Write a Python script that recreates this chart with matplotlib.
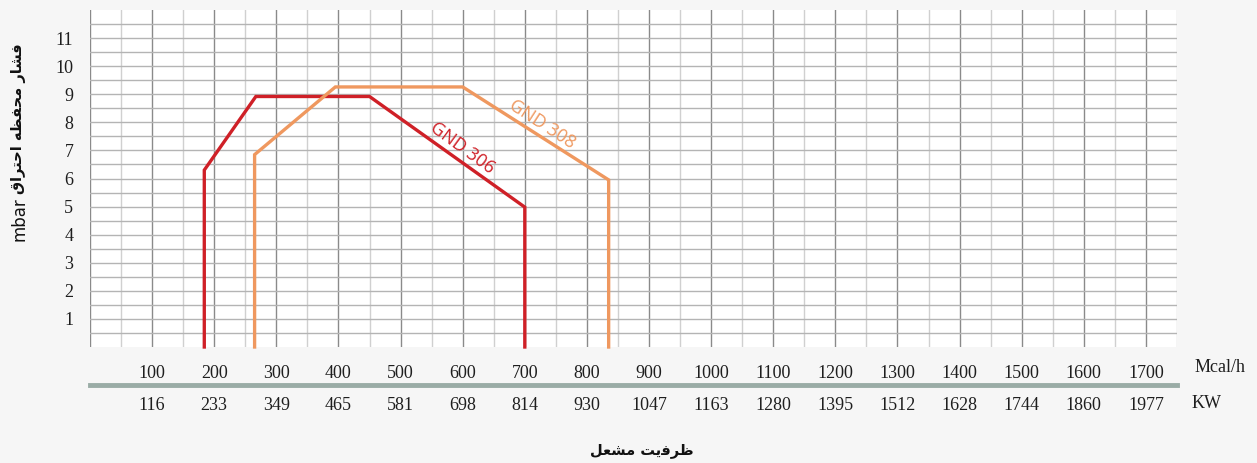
import matplotlib
matplotlib.use("Agg")
import matplotlib.pyplot as plt
import numpy as np
from matplotlib.ticker import FixedLocator

# ---- data ----
mcal_ticks = [100, 200, 300, 400, 500, 600, 700, 800, 900, 1000, 1100, 1200, 1300, 1400, 1500, 1600, 1700]
kw_labels = ["116", "233", "349", "465", "581", "698", "814", "930", "1047", "1163",
             "1280", "1395", "1512", "1628", "1744", "1860", "1977"]
y_ticks = [1, 2, 3, 4, 5, 6, 7, 8, 9, 10, 11]

gnd306_x = [184, 184, 267, 450, 700, 700]
gnd306_y = [0, 6.3, 8.92, 8.92, 4.98, 0]
gnd308_x = [265, 265, 395, 600, 835, 835]
gnd308_y = [0, 6.85, 9.26, 9.26, 5.95, 0]

# Persian texts (presentation forms, visual order)
ylabel_unit = "mbar"
ylabel_fa = "\uFED5\uFE8D\uFEAE\uFE98\uFEA3\uFE8D" + " " + "\uFEEA\uFEC8\uFED4\uFEA4\uFEE3" + " " + "\uFEAD\uFE8E\uFEB8\uFED3"
xlabel_fa = "\uFEDE\uFECC\uFEB8\uFEE3" + " " + "\uFE96\uFBFE\uFED3\uFEAE\uFEC7"

RED = "#cf2027"
ORANGE = "#ef985f"
BG = "#f6f6f6"
TXT = "#1e1e1e"

fig = plt.figure(figsize=(12.57, 4.63), dpi=100, facecolor=BG)
W, H = 1257, 463
ax = fig.add_axes([90 / W, (H - 347) / H, (1177 - 90) / W, (347 - 10) / H])
ax.set_facecolor("white")
ax.set_xlim(0, 1750)
ax.set_ylim(0, 12)

for s in ax.spines.values():
    s.set_visible(False)

# grid
ax.xaxis.set_major_locator(FixedLocator([0] + mcal_ticks))
ax.xaxis.set_minor_locator(FixedLocator(list(np.arange(50, 1800, 100))))
ax.yaxis.set_major_locator(FixedLocator(y_ticks))
ax.yaxis.set_minor_locator(FixedLocator(list(np.arange(0.5, 12, 1.0))))
ax.grid(which="major", axis="x", color="#8a8a8a", lw=1.0)
ax.grid(which="minor", axis="x", color="#d0d0d0", lw=1.0)
ax.grid(which="both", axis="y", color="#b4b4b4", lw=1.0)
ax.set_axisbelow(True)

ax.tick_params(which="both", length=0)
ax.set_xticklabels([""] + [str(v) for v in mcal_ticks], fontfamily="Liberation Serif", fontsize=13, color=TXT)
ax.tick_params(axis="x", pad=13)
ax.set_yticklabels([str(v) for v in y_ticks], fontfamily="Liberation Serif", fontsize=13, color=TXT)
ax.tick_params(axis="y", pad=12)

# curves
ax.plot(gnd306_x, gnd306_y, color=RED, lw=2.4, solid_joinstyle="miter", clip_on=False, zorder=3)
ax.plot(gnd308_x, gnd308_y, color=ORANGE, lw=2.4, solid_joinstyle="miter", clip_on=False, zorder=3)

ax.text(600, 7.08, "GND 306", color=RED, fontsize=13, rotation=-36, ha="center", va="center",
        fontfamily="Open Sans", zorder=4)
ax.text(728, 7.95, "GND 308", color=ORANGE, fontsize=13, rotation=-33, ha="center", va="center",
        fontfamily="Open Sans", zorder=4)

# separator line and KW row
ax.axhline(-1.36, xmin=0, xmax=1, color="#9aaca6", lw=3.5, clip_on=False)
for x, lab in zip(mcal_ticks, kw_labels):
    ax.text(x, -2.08, lab, ha="center", va="center", fontfamily="Liberation Serif",
            fontsize=13, color=TXT, clip_on=False)
ax.text(1819, -0.74, "Mcal/h", ha="center", va="center", fontfamily="Liberation Serif",
        fontsize=13, color=TXT, clip_on=False)
ax.text(1798, -2.02, "KW", ha="center", va="center", fontfamily="Liberation Serif",
        fontsize=13, color=TXT, clip_on=False)

# axis titles
fig.text(642 / W, 1 - 451 / H, xlabel_fa, ha="center", va="center", fontsize=10.5,
         fontweight="bold", family=["DejaVu Sans"], color="#111111")
fig.text(19 / W, 1 - 119 / H, ylabel_fa, ha="center", va="center", fontsize=10.5,
         fontweight="bold", rotation=90, family=["DejaVu Sans"], color="#111111")
fig.text(19 / W, 1 - 219 / H, ylabel_unit, ha="center", va="center", fontsize=12,
         rotation=90, family=["DejaVu Sans"], color="#111111")

fig.savefig("out.png", dpi=100, facecolor=BG)
